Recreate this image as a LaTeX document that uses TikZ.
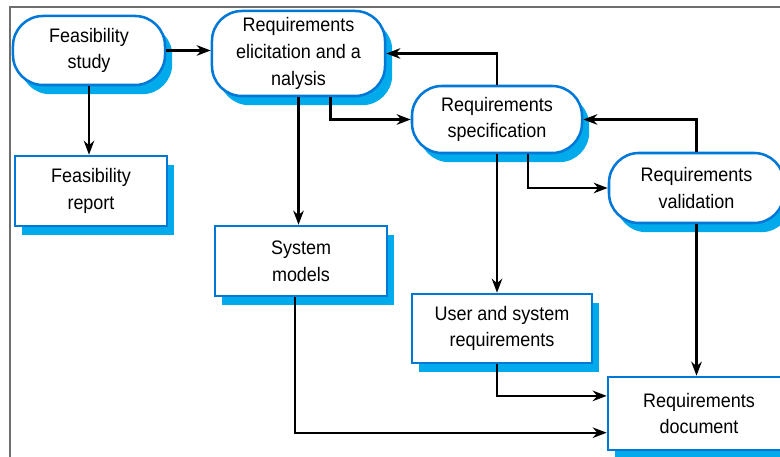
\documentclass[tikz,border=0pt]{standalone}
\usepackage{fontspec}
\setmainfont{Liberation Sans}[FakeStretch=0.92]
\usetikzlibrary{arrows.meta,shadows}
\definecolor{boxblue}{RGB}{0,120,215}
\definecolor{shadowblue}{RGB}{0,170,235}
\definecolor{framegray}{RGB}{110,110,110}

\begin{document}
\begin{tikzpicture}[x=0.025cm, y=-0.025cm, >={Stealth[length=10pt,width=7.5pt]},
    every node/.style={rectangle, draw=boxblue, line width=1.8pt, fill=white, align=center,
        inner sep=2pt, font=\fontsize{13.9}{19}\selectfont,
        drop shadow={shadow xshift=0.18cm, shadow yshift=-0.23cm, fill=shadowblue, opacity=1}},
    stage/.style={rounded corners=0.75cm},
    flow/.style={->, line width=1.5pt, draw=black}]

        \useasboundingbox (0,0) rectangle (780,457);
        \draw[framegray, line width=0.8pt] (10,457) -- (10,7) -- (780,7);

        % Process stages.
        \node[stage, minimum width=3.8cm, minimum height=1.725cm] (FS) at (89,50.5) {Feasibility\\study};
        \node[stage, minimum width=4.325cm, minimum height=2.125cm] (RE) at (298.5,53.5) {Requirements\\elicitation and a\\nalysis};
        \node[stage, minimum width=4.25cm, minimum height=1.675cm] (RS) at (497,119.5) {Requirements\\specification};
        \node[stage, minimum width=4.375cm, minimum height=1.75cm] (RV) at (696.5,188) {Requirements\\validation};

        % Documents.
        \node[minimum width=3.8cm, minimum height=1.75cm] (FR) at (91,191) {Feasibility\\report};
        \node[minimum width=4.3cm, minimum height=1.75cm] (SM) at (301,261) {System\\models};
        \node[minimum width=4.5cm, minimum height=1.725cm] (UR) at (502,328.5) {User and system\\requirements};
        \node[minimum width=4.55cm, minimum height=1.825cm] (RD) at (699,413.5) {Requirements\\document};

        % Stage to stage.
        \draw[flow] (FS.east) -- (FS.east -| RE.west);
        \draw[flow] ([xshift=0.8cm]RE.south) |- (RS.west);
        \draw[flow] (RS.north) |- (RE.east);
        \draw[flow] ([xshift=0.78cm]RS.south) |- (RV.west);
        \draw[flow] (RV.north) |- (RS.east);

        % Stage to document.
        \draw[flow] (FS.south) -- (FS.south |- FR.north);
        \draw[flow] (RE.south) -- (RE.south |- SM.north);
        \draw[flow] (RS.south) -- (RS.south |- UR.north);
        \draw[flow] (RV.south) -- (RV.south |- RD.north);

        % Into the requirements document.
        \draw[flow] ([xshift=-0.12cm]UR.south) |- ([yshift=0.44cm]RD.west);
        \draw[flow] ([xshift=-0.15cm]SM.south) |- ([yshift=-0.48cm]RD.west);

    \end{tikzpicture}
\end{document}
